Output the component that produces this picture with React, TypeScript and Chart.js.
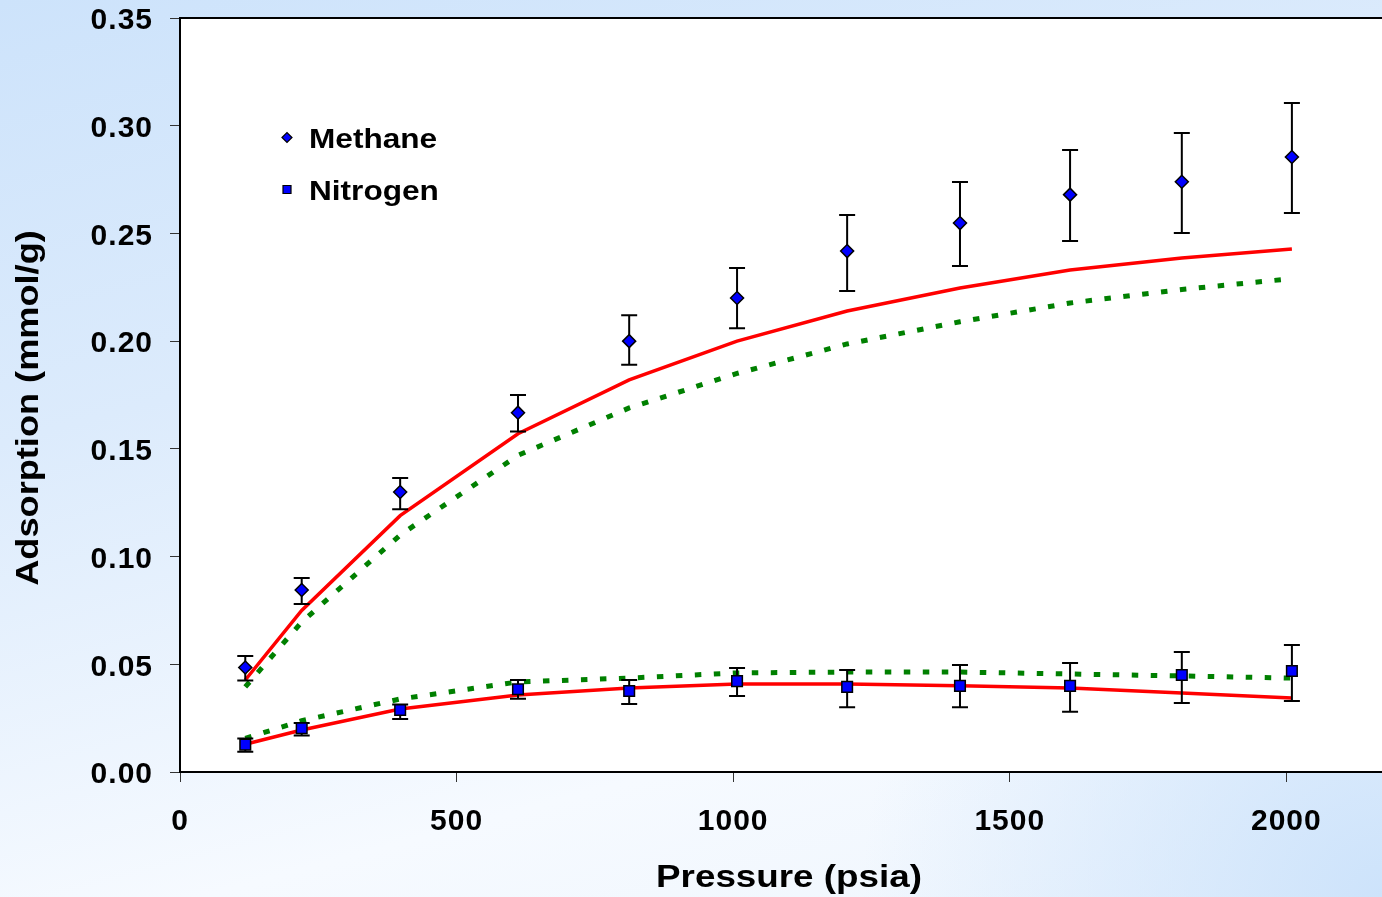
import React, { useEffect, useRef } from 'react';
import { Chart, registerables } from 'chart.js';

Chart.register(...registerables);

const pressure = [118, 220, 398, 611, 812, 1007, 1206, 1410, 1609, 1811, 2010];
const methaneMeasured = [0.0485, 0.0845, 0.130, 0.1668, 0.200, 0.220, 0.2418, 0.2548, 0.2680, 0.2740, 0.2855];
const methaneErrHigh = [0.0539, 0.090, 0.1365, 0.175, 0.212, 0.234, 0.2586, 0.2739, 0.2887, 0.2966, 0.3105];
const methaneErrLow = [0.0425, 0.078, 0.122, 0.158, 0.189, 0.206, 0.2233, 0.2349, 0.2465, 0.2502, 0.2595];
const methaneModelA = [0.0427, 0.075, 0.119, 0.157, 0.182, 0.200, 0.214, 0.2247, 0.233, 0.2386, 0.2428];
const methaneModelB = [0.0395, 0.0696, 0.110, 0.147, 0.169, 0.185, 0.1987, 0.209, 0.2177, 0.224, 0.229];
const nitrogenMeasured = [0.0127, 0.0203, 0.0288, 0.0384, 0.0376, 0.0422, 0.0395, 0.040, 0.040, 0.045, 0.0469];
const nitrogenErrHigh = [0.0155, 0.0227, 0.0313, 0.0427, 0.0427, 0.0483, 0.0473, 0.0497, 0.0506, 0.0557, 0.059];
const nitrogenErrLow = [0.0094, 0.017, 0.0246, 0.034, 0.0316, 0.0353, 0.030, 0.030, 0.028, 0.032, 0.033];
const nitrogenModelA = [0.0129, 0.0195, 0.0292, 0.0357, 0.039, 0.0408, 0.0408, 0.040, 0.039, 0.0367, 0.0343];
const nitrogenModelB = [0.0156, 0.0238, 0.0339, 0.0418, 0.0436, 0.046, 0.0464, 0.0464, 0.0455, 0.0446, 0.0436];

const xTicks = [0, 500, 1000, 1500, 2000];
const legendLabels = ['Methane', 'Nitrogen'];
const xTitle = 'Pressure (psia)';
const yTitle = 'Adsorption (mmol/g)';

const FONT = '"Liberation Sans", Arial, Helvetica, sans-serif';

const toPts = (ys: number[]) => pressure.map((x, i) => ({ x, y: ys[i] }));

function stretchedText(ctx: CanvasRenderingContext2D, text: string, x: number, y: number, sx: number, rot = 0) {
  ctx.save();
  ctx.translate(x, y);
  if (rot) ctx.rotate(rot);
  ctx.scale(sx, 1);
  ctx.fillText(text, 0, 0);
  ctx.restore();
}

export default function App() {
  const ref = useRef<HTMLCanvasElement | null>(null);

  useEffect(() => {
    document.body.style.margin = '0';
    document.body.style.overflow = 'hidden';
    const canvas = ref.current!;

    const custom = {
      id: 'custom',
      beforeDraw(chart: any) {
        const { ctx, chartArea: a } = chart;
        ctx.save();
        ctx.fillStyle = '#ffffff';
        ctx.fillRect(a.left, a.top, a.right - a.left, a.bottom - a.top);
        ctx.restore();
        ctx.letterSpacing = '1px';
      },
      beforeDatasetDraw(chart: any, args: any) {
        if (args.index !== 1) return;
        const { ctx } = chart;
        const xs = chart.scales.x;
        const ys = chart.scales.y;
        ctx.save();
        ctx.strokeStyle = '#000';
        ctx.lineWidth = 2;
        const drawBars = (hi: number[], lo: number[]) => {
          pressure.forEach((p, i) => {
            const px = xs.getPixelForValue(p);
            const y1 = ys.getPixelForValue(hi[i]);
            const y2 = ys.getPixelForValue(lo[i]);
            ctx.beginPath();
            ctx.moveTo(px, y1);
            ctx.lineTo(px, y2);
            ctx.moveTo(px - 8, y1);
            ctx.lineTo(px + 8, y1);
            ctx.moveTo(px - 8, y2);
            ctx.lineTo(px + 8, y2);
            ctx.stroke();
          });
        };
        drawBars(methaneErrHigh, methaneErrLow);
        drawBars(nitrogenErrHigh, nitrogenErrLow);
        ctx.restore();
      },
      afterDraw(chart: any) {
        const { ctx, chartArea: a } = chart;
        ctx.save();
        ctx.strokeStyle = '#000';
        ctx.lineWidth = 2;
        ctx.beginPath();
        ctx.moveTo(a.left - 1, a.top);
        ctx.lineTo(a.right, a.top);
        ctx.stroke();

        // legend
        ctx.fillStyle = '#0000ff';
        ctx.strokeStyle = '#000';
        ctx.lineWidth = 1.2;
        ctx.beginPath();
        ctx.moveTo(287 - 5, 137.5);
        ctx.lineTo(287, 132.5);
        ctx.lineTo(287 + 5, 137.5);
        ctx.lineTo(287, 142.5);
        ctx.closePath();
        ctx.fill();
        ctx.stroke();
        ctx.beginPath();
        ctx.rect(283, 185.5, 8, 8);
        ctx.fill();
        ctx.stroke();

        ctx.fillStyle = '#000';
        ctx.letterSpacing = '0px';
        ctx.font = `bold 27px ${FONT}`;
        ctx.textAlign = 'left';
        ctx.textBaseline = 'alphabetic';
        stretchedText(ctx, legendLabels[0], 309, 148, 1.17);
        stretchedText(ctx, legendLabels[1], 309, 200, 1.17);

        // axis titles
        ctx.font = `bold 32px ${FONT}`;
        ctx.textAlign = 'center';
        stretchedText(ctx, xTitle, 789, 887, 1.15);
        stretchedText(ctx, yTitle, 38, 408, 1.13, -Math.PI / 2);
        ctx.restore();
      },
    };

    const chart = new Chart(canvas, {
      type: 'scatter',
      data: {
        datasets: [
          {
            label: legendLabels[0],
            data: toPts(methaneMeasured),
            showLine: false,
            pointStyle: 'rectRot',
            pointRadius: 6.5,
            pointBackgroundColor: '#0000ff',
            pointBorderColor: '#000',
            pointBorderWidth: 1.5,
          },
          {
            label: legendLabels[1],
            data: toPts(nitrogenMeasured),
            showLine: false,
            pointStyle: 'rect',
            pointRadius: 7.5,
            pointBackgroundColor: '#0000ff',
            pointBorderColor: '#000',
            pointBorderWidth: 1.5,
          },
          {
            label: 'Methane model A',
            data: toPts(methaneModelA),
            showLine: true,
            pointRadius: 0,
            borderColor: '#ff0000',
            borderWidth: 3.5,
            fill: false,
          },
          {
            label: 'Nitrogen model A',
            data: toPts(nitrogenModelA),
            showLine: true,
            pointRadius: 0,
            borderColor: '#ff0000',
            borderWidth: 3.5,
            fill: false,
          },
          {
            label: 'Methane model B',
            data: toPts(methaneModelB),
            showLine: true,
            pointRadius: 0,
            borderColor: '#008000',
            borderWidth: 5,
            borderDash: [6.5, 12.5],
            borderCapStyle: 'butt',
            fill: false,
          },
          {
            label: 'Nitrogen model B',
            data: toPts(nitrogenModelB),
            showLine: true,
            pointRadius: 0,
            borderColor: '#008000',
            borderWidth: 5,
            borderDash: [6.5, 12.5],
            borderCapStyle: 'butt',
            fill: false,
          },
        ],
      },
      options: {
        responsive: false,
        animation: false,
        events: [],
        layout: { padding: { top: 18, right: 23, left: 0, bottom: 0 } },
        plugins: { legend: { display: false }, tooltip: { enabled: false } },
        scales: {
          x: {
            type: 'linear',
            min: 0,
            max: 2200,
            afterFit: (s: any) => {
              s.height = 125;
              s.paddingLeft = 0;
              s.paddingRight = 0;
            },
            afterBuildTicks: (s: any) => { s.ticks = xTicks.map((v) => ({ value: v })); },
            ticks: {
              color: '#000',
              padding: 22,
              font: { family: FONT, size: 30, weight: 'bold' },
              callback: (v: any) => String(v),
              maxRotation: 0,
            },
            grid: { drawOnChartArea: false, drawTicks: true, tickLength: 10, tickColor: '#333', lineWidth: 1 },
            border: { display: true, color: '#000', width: 2 },
          },
          y: {
            type: 'linear',
            min: 0,
            max: 0.35,
            afterFit: (s: any) => {
              s.width = 180;
              s.paddingTop = 0;
              s.paddingBottom = 0;
            },
            ticks: {
              color: '#000',
              padding: 17,
              stepSize: 0.05,
              labelOffset: 3,
              font: { family: FONT, size: 30, weight: 'bold' },
              callback: (v: any) => Number(v).toFixed(2),
            },
            grid: { drawOnChartArea: false, drawTicks: true, tickLength: 10, tickColor: '#333', lineWidth: 1 },
            border: { display: true, color: '#000', width: 2 },
          },
        },
      },
      plugins: [custom],
    } as any);

    return () => chart.destroy();
  }, []);

  return (
    <div
      style={{
        position: 'fixed',
        left: 0,
        top: 0,
        width: 1382,
        height: 897,
        overflow: 'hidden',
        background:
          'radial-gradient(circle at 100% 100%, rgba(205,227,251,1) 0px, rgba(205,227,251,0) 520px), linear-gradient(165deg, #cde3fb 0%, #dcebfc 35%, #f6faff 75%, #eef5fd 100%)',
      }}
    >
      <canvas ref={ref} width={1420} height={897} style={{ display: 'block', width: 1420, height: 897 }} />
    </div>
  );
}
